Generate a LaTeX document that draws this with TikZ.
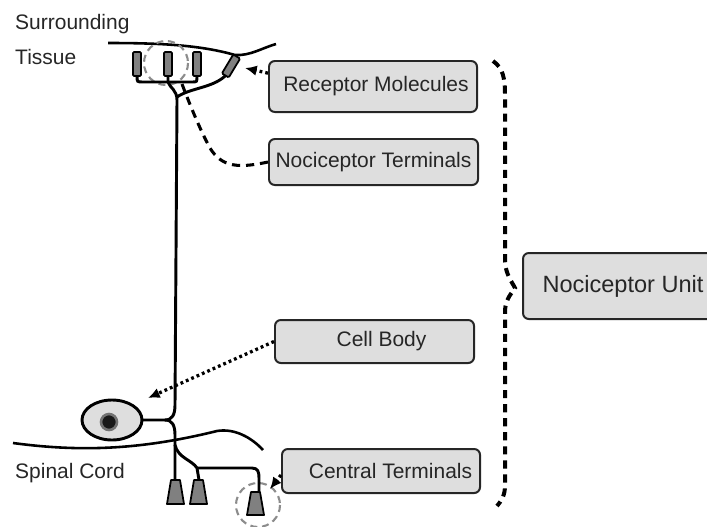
\documentclass[tikz,border=0pt]{standalone}
\usepackage{fontspec}
\setmainfont{Liberation Sans}
\usetikzlibrary{arrows.meta}
\begin{document}
\begin{tikzpicture}[x=0.03cm, y=-0.03cm,
    nerve/.style={black, line width=2.5pt, line cap=round},
    receptor/.style={draw=black, fill=black!50, line width=1.5pt, rounded corners=1pt},
    labelbox/.style={draw=black!85, fill=black!13, line width=1.7pt, rounded corners=5pt, text=black!85, font=\fontsize{17.9}{21}\selectfont, inner sep=0pt},
    tag/.style={anchor=base west, text=black!85, font=\fontsize{17.9}{21}\selectfont, inner sep=0pt},
    zone/.style={draw=black!45, line width=1.8pt, dash pattern=on 6pt off 4pt},
    pointer/.style={black, line width=2.8pt, dash pattern=on 2.4pt off 2.6pt, -{Latex[length=10pt,width=9pt]}},
    leader/.style={black, line width=2.6pt, dash pattern=on 7pt off 5pt}]
    \useasboundingbox (0,0) rectangle (707,526);
    % Draw tissue and spinal cord borders
    \draw[black, line width=2.2pt] (108,43) .. controls (160,43) and (200,45) .. (235,55) .. controls (250,56) and (262,48) .. (276,44);
    \draw[black, line width=2.2pt] (13,443) .. controls (80,452) and (140,450) .. (217,431) .. controls (235,428) and (252,438) .. (263,450);
    \node[tag] (tissueA) at (15,29) {Surrounding};
    \node[tag] (tissueB) at (15,64) {Tissue};
    \node[tag] (cord) at (15,478) {Spinal Cord};
    % Dashed zones round terminals
    \draw[zone] (166,63) circle (22);
    \draw[zone] (258,505) circle (22);
    % Draw receptors and peripheral branches
    \draw[nerve] (137,76) .. controls (137,82) .. (143,82) -- (192,82) .. controls (197,82) .. (197,76);
    \draw[nerve] (168,76) -- (168,82) .. controls (170,88) and (177,90) .. (177,100) -- (175,405) .. controls (175,415) and (172,420) .. (165,420) -- (142,420);
    \draw[receptor] (133,52) rectangle (141,76);
    \draw[receptor] (164,52) rectangle (172,76);
    \draw[receptor] (193,52) rectangle (201,76);
    \node[receptor, rotate=59, minimum width=0.66cm, minimum height=0.24cm, inner sep=0pt] (tilt) at (231,66) {};
    \draw[nerve] (tilt.west) .. controls (212,88) and (190,88) .. (177,97);
    % Draw cell body
    \filldraw[line width=2.5pt, draw=black, fill=black!13] (112,420) ellipse (30 and 20);
    \filldraw[draw=black!55, fill=black!90, line width=2.2pt] (109,422) circle (8);
    % Draw central branches and terminals
    \draw[nerve] (165,420) .. controls (172,420) and (175,425) .. (175,435) -- (175,480);
    \draw[nerve] (175,445) .. controls (178,458) and (192,460) .. (197,468) -- (199,480);
    \draw[nerve] (197,468) -- (252,468) .. controls (258,468) and (259,472) .. (259,478) -- (259,492);
    \foreach \cx/\top/\bot in {175.5/480/504, 198.5/480/504, 255.5/492/515}
        \filldraw[draw=black, fill=black!50, line width=1.5pt, line join=round] (\cx-4.5,\top) -- (\cx+4.5,\top) -- (\cx+8.5,\bot) -- (\cx-8.5,\bot) -- cycle;
    % Label boxes
    \node[labelbox, minimum width=6.24cm, minimum height=1.53cm] (rm) at (373,86.5) {\hspace*{0.18cm}Receptor Molecules};
    \node[labelbox, minimum width=6.27cm, minimum height=1.38cm] (nt) at (373.5,162) {Nociceptor Terminals};
    \node[labelbox, minimum width=5.97cm, minimum height=1.29cm] (cb) at (374.5,341.5) {\hspace*{0.42cm}Cell Body};
    \node[labelbox, minimum width=5.94cm, minimum height=1.32cm] (ct) at (381,471) {\hspace*{0.57cm}Central Terminals};
    \node[labelbox, minimum width=6.0cm, minimum height=1.98cm, font=\fontsize{20.1}{24}\selectfont] (nu) at (623,286) {Nociceptor Unit};
    % Pointers from boxes
    \coordinate (rmtip) at (245,68);
    \coordinate (nttip) at (182,84);
    \coordinate (cbtip) at (148,398);
    \coordinate (cttip) at (270,489);
    \draw[pointer] ([yshift=0.4cm]rm.west) -- (rmtip);
    \draw[leader] (nt.west) .. controls (240,168) and (222,168) .. (210,148) .. controls (200,130) and (188,100) .. (nttip);
    \draw[pointer] (cb.west) -- (cbtip);
    \draw[pointer] ([yshift=-0.12cm]ct.west) -- (cttip);
    % Brace round the whole unit
    \draw[black, line width=3.4pt, dash pattern=on 7pt off 5pt] (493,61) .. controls (503,68) and (505,78) .. (505,95) -- (505,262) .. controls (506,275) and (512,282) .. (515,288) .. controls (512,293) and (506,298) .. (505,310) -- (505,485) .. controls (505,495) and (502,500) .. (497,506);
\end{tikzpicture}
\end{document}
